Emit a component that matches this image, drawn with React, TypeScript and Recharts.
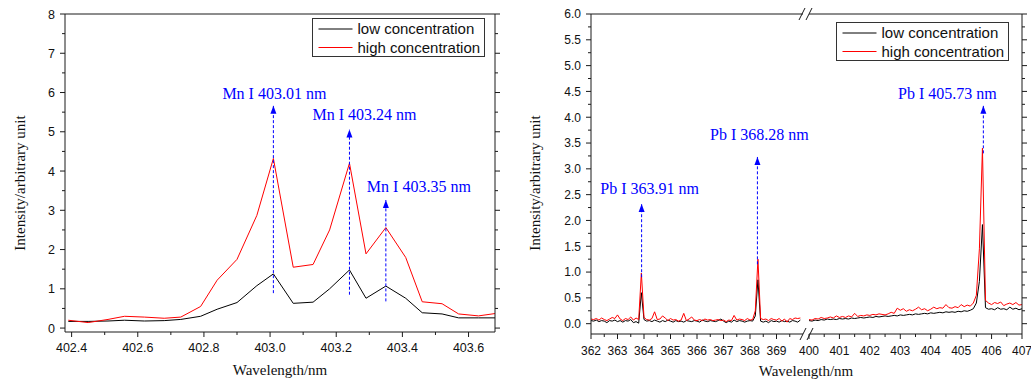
import React from 'react';
import { LineChart, Line, XAxis, YAxis, ReferenceLine, ReferenceDot } from 'recharts';

// Mn I lines (left plot)
const mnWl = [402.39, 402.45, 402.51, 402.56, 402.62, 402.68, 402.73, 402.79, 402.84, 402.9, 402.96, 403.01,
  403.07, 403.13, 403.18, 403.24, 403.29, 403.35, 403.41, 403.46, 403.52, 403.57, 403.63, 403.68];
const mnLow = [0.17, 0.17, 0.18, 0.2, 0.18, 0.19, 0.22, 0.3, 0.48, 0.65, 1.08, 1.38,
  0.63, 0.66, 1.0, 1.48, 0.76, 1.07, 0.76, 0.39, 0.36, 0.26, 0.26, 0.26];
const mnHigh = [0.2, 0.14, 0.22, 0.3, 0.28, 0.25, 0.28, 0.55, 1.22, 1.75, 2.87, 4.32,
  1.55, 1.62, 2.5, 4.2, 1.89, 2.56, 1.8, 0.67, 0.62, 0.36, 0.31, 0.37];
const mnXTicks = [402.4, 402.5, 402.6, 402.7, 402.8, 402.9, 403.0, 403.1, 403.2, 403.3, 403.4, 403.5, 403.6];
const mnXMajor = [402.4, 402.6, 402.8, 403.0, 403.2, 403.4, 403.6];
const mnYTicks = [0, 0.5, 1, 1.5, 2, 2.5, 3, 3.5, 4, 4.5, 5, 5.5, 6, 6.5, 7, 7.5, 8];
const mnYMajor = [0, 1, 2, 3, 4, 5, 6, 7, 8];

// Pb I lines, 362-370 nm part
const pbAWl = [362.0, 362.1, 362.2, 362.3, 362.4, 362.5, 362.6, 362.7, 362.8, 362.9,
  363.0, 363.1, 363.2, 363.3, 363.4, 363.5, 363.6, 363.7, 363.8, 363.9,
  364.0, 364.1, 364.2, 364.3, 364.4, 364.5, 364.6, 364.7, 364.8, 364.9,
  365.0, 365.1, 365.2, 365.3, 365.4, 365.5, 365.6, 365.7, 365.8, 365.9,
  366.0, 366.1, 366.2, 366.3, 366.4, 366.5, 366.6, 366.7, 366.8, 366.9,
  367.0, 367.1, 367.2, 367.3, 367.4, 367.5, 367.6, 367.7, 367.8, 367.9,
  368.0, 368.1, 368.2, 368.3, 368.4, 368.5, 368.6, 368.7, 368.8, 368.9,
  369.0, 369.1, 369.2, 369.3, 369.4, 369.5, 369.6, 369.7, 369.8, 369.9];
const pbALow = [0.06, 0.05, 0.07, 0.04, 0.06, 0.05, 0.02, 0.06, 0.05, 0.07,
  0.04, 0.06, 0.03, 0.06, 0.05, 0.08, 0.02, 0.04, 0.01, 0.6,
  0.08, 0.05, 0.06, 0.04, 0.07, 0.05, 0.03, 0.06, 0.04, 0.07,
  0.05, 0.03, 0.06, 0.04, 0.05, 0.03, 0.06, 0.05, 0.04, 0.06,
  0.05, 0.03, 0.07, 0.05, 0.04, 0.06, 0.05, 0.04, 0.06, 0.09,
  0.05, 0.02, 0.05, 0.03, 0.07, 0.04, 0.06, 0.05, 0.03, 0.05,
  0.06, 0.05, 0.15, 0.85, 0.05, 0.03, 0.05, 0.02, 0.06, 0.04,
  0.05, 0.03, 0.06, 0.04, 0.05, 0.03, 0.06, 0.05, 0.03, 0.07];
const pbAHigh = [0.09, 0.08, 0.1, 0.07, 0.11, 0.08, 0.06, 0.09, 0.12, 0.1,
  0.17, 0.09, 0.06, 0.1, 0.08, 0.13, 0.07, 0.11, 0.08, 0.98,
  0.12, 0.08, 0.07, 0.1, 0.23, 0.08, 0.09, 0.15, 0.11, 0.06,
  0.1, 0.07, 0.08, 0.05, 0.07, 0.2, 0.06, 0.09, 0.13, 0.07,
  0.06, 0.08, 0.06, 0.09, 0.07, 0.08, 0.06, 0.07, 0.08, 0.06,
  0.07, 0.04, 0.07, 0.06, 0.16, 0.07, 0.09, 0.08, 0.06, 0.1,
  0.07, 0.08, 0.25, 1.25, 0.1, 0.08, 0.09, 0.06, 0.1, 0.08,
  0.07, 0.1, 0.05, 0.09, 0.03, 0.1, 0.08, 0.11, 0.1, 0.11];
const pbAXTicks = [362, 362.5, 363, 363.5, 364, 364.5, 365, 365.5, 366, 366.5, 367, 367.5, 368, 368.5, 369, 369.5];
const pbAXMajor = [362, 363, 364, 365, 366, 367, 368, 369];

// Pb I lines, 400-407 nm part
const pbBWl = [400.0, 400.1, 400.2, 400.3, 400.4, 400.5, 400.6, 400.7, 400.8, 400.9,
  401.0, 401.1, 401.2, 401.3, 401.4, 401.5, 401.6, 401.7, 401.8, 401.9,
  402.0, 402.1, 402.2, 402.3, 402.4, 402.5, 402.6, 402.7, 402.8, 402.9,
  403.0, 403.1, 403.2, 403.3, 403.4, 403.5, 403.6, 403.7, 403.8, 403.9,
  404.0, 404.1, 404.2, 404.3, 404.4, 404.5, 404.6, 404.7, 404.8, 404.9,
  405.0, 405.1, 405.2, 405.3, 405.4, 405.5, 405.6, 405.7, 405.8, 405.9,
  406.0, 406.1, 406.2, 406.3, 406.4, 406.5, 406.6, 406.7, 406.8, 406.9, 407.0];
const pbBLow = [0.06, 0.05, 0.07, 0.06, 0.08, 0.07, 0.09, 0.08, 0.09, 0.08,
  0.1, 0.09, 0.1, 0.09, 0.11, 0.1, 0.11, 0.12, 0.11, 0.12,
  0.13, 0.12, 0.14, 0.13, 0.14, 0.15, 0.14, 0.15, 0.16, 0.15,
  0.17, 0.16, 0.17, 0.18, 0.17, 0.19, 0.18, 0.19, 0.2, 0.19,
  0.21, 0.2, 0.21, 0.22, 0.21, 0.23, 0.22, 0.23, 0.22, 0.24,
  0.23, 0.25, 0.24, 0.26, 0.29, 0.4, 0.82, 1.92, 0.31, 0.28,
  0.29, 0.27, 0.31, 0.28, 0.29, 0.27, 0.32, 0.28, 0.3, 0.27, 0.29];
const pbBHigh = [0.08, 0.07, 0.1, 0.09, 0.12, 0.1, 0.11, 0.13, 0.11, 0.15,
  0.12, 0.14, 0.12, 0.15, 0.13, 0.2, 0.14, 0.16, 0.15, 0.17,
  0.16, 0.18, 0.17, 0.19, 0.18, 0.17, 0.19, 0.22, 0.2, 0.3,
  0.26, 0.29, 0.24, 0.27, 0.25, 0.28, 0.32, 0.27, 0.29, 0.25,
  0.28, 0.32, 0.29, 0.31, 0.3, 0.37, 0.31, 0.3, 0.33, 0.31,
  0.37, 0.33, 0.36, 0.34, 0.4, 0.55, 1.45, 3.4, 0.45, 0.4,
  0.37, 0.41, 0.39, 0.42, 0.35, 0.38, 0.4, 0.37, 0.41, 0.36, 0.37];
const pbBXTicks = [400, 400.5, 401, 401.5, 402, 402.5, 403, 403.5, 404, 404.5, 405, 405.5, 406, 406.5, 407];
const pbBXMajor = [400, 401, 402, 403, 404, 405, 406, 407];

const pbYTicks = [0, 0.25, 0.5, 0.75, 1, 1.25, 1.5, 1.75, 2, 2.25, 2.5, 2.75, 3, 3.25, 3.5, 3.75, 4,
  4.25, 4.5, 4.75, 5, 5.25, 5.5, 5.75, 6];
const pbYMajor = [0, 0.5, 1, 1.5, 2, 2.5, 3, 3.5, 4, 4.5, 5, 5.5, 6];

type Note = { wl: number; base: number; tip: number; text: string; dx: number; dy: number };

const mnNotes: Note[] = [
  { wl: 403.01, base: 0.89, tip: 5.66, text: 'Mn I 403.01 nm', dx: 1, dy: -7 },
  { wl: 403.24, base: 0.85, tip: 5.06, text: 'Mn I 403.24 nm', dx: 15, dy: -9 },
  { wl: 403.35, base: 0.68, tip: 3.26, text: 'Mn I 403.35 nm', dx: 33, dy: -8 },
];
const pbANotes: Note[] = [
  { wl: 363.91, base: 0.9, tip: 2.32, text: 'Pb I 363.91 nm', dx: 8, dy: -10 },
  { wl: 368.28, base: 1.15, tip: 3.23, text: 'Pb I 368.28 nm', dx: 2, dy: -17 },
];
const pbBNotes: Note[] = [
  { wl: 405.73, base: 3.3, tip: 4.22, text: 'Pb I 405.73 nm', dx: -36, dy: -7 },
];

const H = 381;
const AX = '#1a1a1a';
const BLUE = '#0000ff';
const SANS = '"Liberation Sans", Arial, sans-serif';
const SERIF = '"Liberation Serif", "Times New Roman", serif';

const rowsOf = (wl: number[], low: number[], high: number[]) =>
  wl.map((w, i) => ({ wl: w, low: low[i], high: high[i] }));

function makeTick(side: string, majors: number[], fmt: ((v: number) => string) | null, fs: number, gap: number) {
  return (p: any) => {
    const v = Number(p.payload.value);
    const isMajor = majors.some((m) => Math.abs(m - v) < 1e-6);
    const len = isMajor ? 5 : 3;
    const { x, y } = p;
    const txt = { fontFamily: SANS, fontSize: fs, fill: '#111' };
    if (side === 'bottom') {
      return (
        <g>
          <line x1={x} y1={y} x2={x} y2={y + len} stroke={AX} />
          {fmt && isMajor && <text x={x} y={y + gap} textAnchor="middle" {...txt}>{fmt(v)}</text>}
        </g>
      );
    }
    if (side === 'top') return <line x1={x} y1={y} x2={x} y2={y - len} stroke={AX} />;
    if (side === 'right') return <line x1={x} y1={y} x2={x + len} y2={y} stroke={AX} />;
    return (
      <g>
        <line x1={x} y1={y} x2={x - len} y2={y} stroke={AX} />
        {fmt && isMajor && <text x={x - 10} y={y + fs * 0.36} textAnchor="end" {...txt}>{fmt(v)}</text>}
      </g>
    );
  };
}

type PanelProps = {
  left: number; width: number; plotLeft: number; plotRight: number; plotBottom: number;
  rows: any[]; xDomain: [number, number]; xTicks: number[]; xMajors: number[];
  yDomain: [number, number]; yTicks: number[]; yMajors: number[];
  xFmt: (v: number) => string; yFmt: (v: number) => string;
  leftAxis: boolean; rightAxis: boolean; notes: Note[]; fs: number; gap: number;
};

// axes get a 1px box (a 0px one is not drawn), margins take that pixel back
function Panel(p: PanelProps) {
  const margin = {
    top: 13,
    left: p.plotLeft - p.left - (p.leftAxis ? 1 : 0),
    right: p.left + p.width - p.plotRight - (p.rightAxis ? 1 : 0),
    bottom: H - p.plotBottom - 1,
  };
  return (
    <div style={{ position: 'absolute', left: p.left, top: 0 }}>
      <LineChart width={p.width} height={H} data={p.rows} margin={margin}>
        <XAxis xAxisId="top" orientation="top" type="number" domain={p.xDomain} allowDataOverflow
          ticks={p.xTicks} interval={0} height={1} tickSize={0} tickMargin={0}
          tick={makeTick('top', p.xMajors, null, p.fs, p.gap)} axisLine={{ stroke: AX }} tickLine={false} />
        <XAxis xAxisId="b" dataKey="wl" type="number" domain={p.xDomain} allowDataOverflow
          ticks={p.xTicks} interval={0} height={1} tickSize={0} tickMargin={0}
          tick={makeTick('bottom', p.xMajors, p.xFmt, p.fs, p.gap)} axisLine={{ stroke: AX }} tickLine={false} />
        <YAxis yAxisId="l" type="number" domain={p.yDomain} allowDataOverflow hide={!p.leftAxis}
          ticks={p.yTicks} interval={0} width={1} tickSize={0} tickMargin={0}
          tick={makeTick('left', p.yMajors, p.yFmt, p.fs, p.gap)} axisLine={{ stroke: AX }} tickLine={false} />
        {p.rightAxis && (
          <YAxis yAxisId="r" orientation="right" type="number" domain={p.yDomain} allowDataOverflow
            ticks={p.yTicks} interval={0} width={1} tickSize={0} tickMargin={0}
            tick={makeTick('right', p.yMajors, null, p.fs, p.gap)} axisLine={{ stroke: AX }} tickLine={false} />
        )}
        <Line xAxisId="b" yAxisId="l" type="linear" dataKey="low" stroke="#000000" strokeWidth={1}
          dot={false} isAnimationActive={false} />
        <Line xAxisId="b" yAxisId="l" type="linear" dataKey="high" stroke="#ff0000" strokeWidth={1}
          dot={false} isAnimationActive={false} />
        {p.notes.map((n) => (
          <ReferenceLine key={'l' + n.wl} xAxisId="b" yAxisId="l" ifOverflow="visible"
            segment={[{ x: n.wl, y: n.base }, { x: n.wl, y: n.tip }]}
            stroke={BLUE} strokeDasharray="3 2" strokeWidth={1} />
        ))}
        {p.notes.map((n) => (
          <ReferenceDot key={'d' + n.wl} xAxisId="b" yAxisId="l" x={n.wl} y={n.tip} r={0} ifOverflow="visible"
            shape={(s: any) => (
              <g>
                <path d={`M${s.cx},${s.cy} L${s.cx - 3},${s.cy + 8} L${s.cx + 3},${s.cy + 8} Z`} fill={BLUE} />
                <text x={s.cx + n.dx} y={s.cy + n.dy} textAnchor="middle" fill={BLUE}
                  fontFamily={SERIF} fontSize={16}>{n.text}</text>
              </g>
            )} />
        ))}
      </LineChart>
    </div>
  );
}

function LegendBox({ x, y }: { x: number; y: number }) {
  const t = { fontFamily: SANS, fontSize: 15, fill: '#111' };
  return (
    <g>
      <rect x={x} y={y} width={172} height={38} fill="#fff" stroke="#333" strokeWidth={1} />
      <line x1={x + 6} y1={y + 10.5} x2={x + 40} y2={y + 10.5} stroke="#000" />
      <text x={x + 45} y={y + 15.5} {...t}>low concentration</text>
      <line x1={x + 6} y1={y + 29} x2={x + 40} y2={y + 29} stroke="#ff0000" />
      <text x={x + 45} y={y + 34} {...t}>high concentration</text>
    </g>
  );
}

export default function App() {
  const title = { fontFamily: SERIF, fontSize: 15, fill: '#111' };
  const f1 = (v: number) => v.toFixed(1);
  const f0 = (v: number) => v.toFixed(0);
  return (
    <div style={{ position: 'absolute', left: 0, top: 0, width: 1031, height: H, background: '#fff' }}>
      <Panel left={0} width={520} plotLeft={65} plotRight={495} plotBottom={332}
        rows={rowsOf(mnWl, mnLow, mnHigh)} xDomain={[402.38, 403.68]} xTicks={mnXTicks} xMajors={mnXMajor}
        yDomain={[-0.1, 8]} yTicks={mnYTicks} yMajors={mnYMajor} xFmt={f1} yFmt={f0}
        leftAxis rightAxis notes={mnNotes} fs={12.5} gap={19.5} />
      <Panel left={520} width={300} plotLeft={591} plotRight={803} plotBottom={334}
        rows={rowsOf(pbAWl, pbALow, pbAHigh)} xDomain={[362, 370]} xTicks={pbAXTicks} xMajors={pbAXMajor}
        yDomain={[-0.2, 6]} yTicks={pbYTicks} yMajors={pbYMajor} xFmt={f0} yFmt={f1}
        leftAxis rightAxis={false} notes={pbANotes} fs={12} gap={20.5} />
      <Panel left={785} width={246} plotLeft={809} plotRight={1022} plotBottom={334}
        rows={rowsOf(pbBWl, pbBLow, pbBHigh)} xDomain={[400, 407]} xTicks={pbBXTicks} xMajors={pbBXMajor}
        yDomain={[-0.2, 6]} yTicks={pbYTicks} yMajors={pbYMajor} xFmt={f0} yFmt={f1}
        leftAxis={false} rightAxis notes={pbBNotes} fs={12} gap={20.5} />
      <svg width={1031} height={H} style={{ position: 'absolute', left: 0, top: 0, pointerEvents: 'none' }}>
        <text x={280} y={375} textAnchor="middle" {...title}>Wavelength/nm</text>
        <text x={806} y={376} textAnchor="middle" {...title}>Wavelength/nm</text>
        <text transform="translate(24.5,183) rotate(-90)" textAnchor="middle" {...title}>Intensity/arbitrary unit</text>
        <text transform="translate(539.5,183) rotate(-90)" textAnchor="middle" {...title}>Intensity/arbitrary unit</text>
        <LegendBox x={312.5} y={18.5} />
        <LegendBox x={836.5} y={22.5} />
        <g stroke={AX} strokeWidth={1}>
          <line x1={799} y1={20} x2={805} y2={8} />
          <line x1={806} y1={20} x2={812} y2={8} />
          <line x1={800} y1={340} x2={806} y2={328} />
          <line x1={807} y1={340} x2={813} y2={328} />
        </g>
      </svg>
    </div>
  );
}
